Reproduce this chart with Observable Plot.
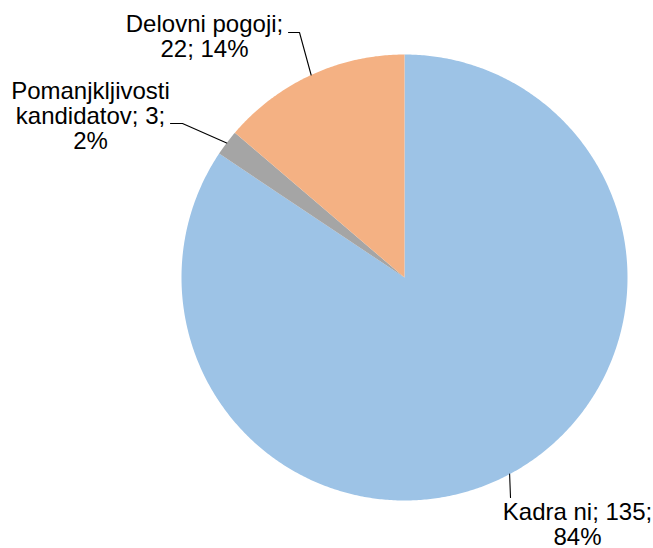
<!DOCTYPE html>
<html><head><meta charset="utf-8">
<script src="https://cdn.jsdelivr.net/npm/d3@7"></script>
<script src="https://cdn.jsdelivr.net/npm/@observablehq/plot@0.6"></script>
<style>body{margin:0;background:#fff}</style>
</head><body><div id="chart"></div>
<script>
// ---- data ----
const categories = ["Kadra ni", "Pomanjkljivosti\nkandidatov", "Delovni pogoji"];
const values = [135, 3, 22];
const colors = ["#9DC3E6", "#A5A5A5", "#F4B183"];

// ---- layout ----
const W = 653, H = 548;
const cx = 404, cy = 277, R = 223;
const labelBreaks = [["; ", ";\n"], ["; ", ";\n"], [";\n", "; "]];
const labelLayout = [
  {tx: 577, ty: 544, elbow: [510, 497], end: [510, 497]},
  {tx: 90, ty: 148, elbow: [182, 123], end: [170, 123]},
  {tx: 204, ty: 56, elbow: [299, 32], end: [288, 32]}
];

const total = d3.sum(values);
const arcs = d3.pie().sort(null).value(d => d)(values);

// slice polygons in data coordinates (units = px relative to centre, y up)
const slices = [];
arcs.forEach((a, i) => {
  const cat = categories[i];
  slices.push({cat, x: 0, y: 0});
  const n = Math.max(2, Math.ceil((a.endAngle - a.startAngle) / (Math.PI / 360)));
  for (let k = 0; k <= n; k++) {
    const t = a.startAngle + (a.endAngle - a.startAngle) * k / n;
    slices.push({cat, x: R * Math.sin(t), y: R * Math.cos(t)});
  }
  slices.push({cat, x: 0, y: 0});
});

const px = p => p - cx, py = p => cy - p;

const labels = arcs.map((a, i) => {
  const pct = Math.round(values[i] / total * 100) + "%";
  const text = categories[i] + labelBreaks[i][0] + values[i] + labelBreaks[i][1] + pct;
  return {cat: categories[i], text, x: px(labelLayout[i].tx), y: py(labelLayout[i].ty)};
});

const leaders = [];
arcs.forEach((a, i) => {
  const m = (a.startAngle + a.endAngle) / 2;
  const L = labelLayout[i];
  leaders.push({cat: categories[i], x: R * Math.sin(m), y: R * Math.cos(m)});
  leaders.push({cat: categories[i], x: px(L.elbow[0]), y: py(L.elbow[1])});
  leaders.push({cat: categories[i], x: px(L.end[0]), y: py(L.end[1])});
});

const chart = Plot.plot({
  width: W, height: H,
  margin: 0,
  x: {domain: [-cx, W - cx], axis: null},
  y: {domain: [-(H - cy), cy], axis: null},
  color: {domain: categories, range: colors},
  style: {background: "#fff"},
  marks: [
    Plot.line(slices, {x: "x", y: "y", z: "cat", fill: "cat", stroke: null, curve: "linear"}),
    Plot.line(leaders, {x: "x", y: "y", z: "cat", stroke: "#000", strokeWidth: 1.1}),
    Plot.text(labels, {x: "x", y: "y", text: "text", textAnchor: "middle", lineAnchor: "bottom",
      fontSize: 24, lineHeight: 25 / 24, fontFamily: "'Liberation Sans', Arial, sans-serif", fill: "#000"})
  ]
});
document.getElementById("chart").appendChild(chart);
</script>
</body></html>
